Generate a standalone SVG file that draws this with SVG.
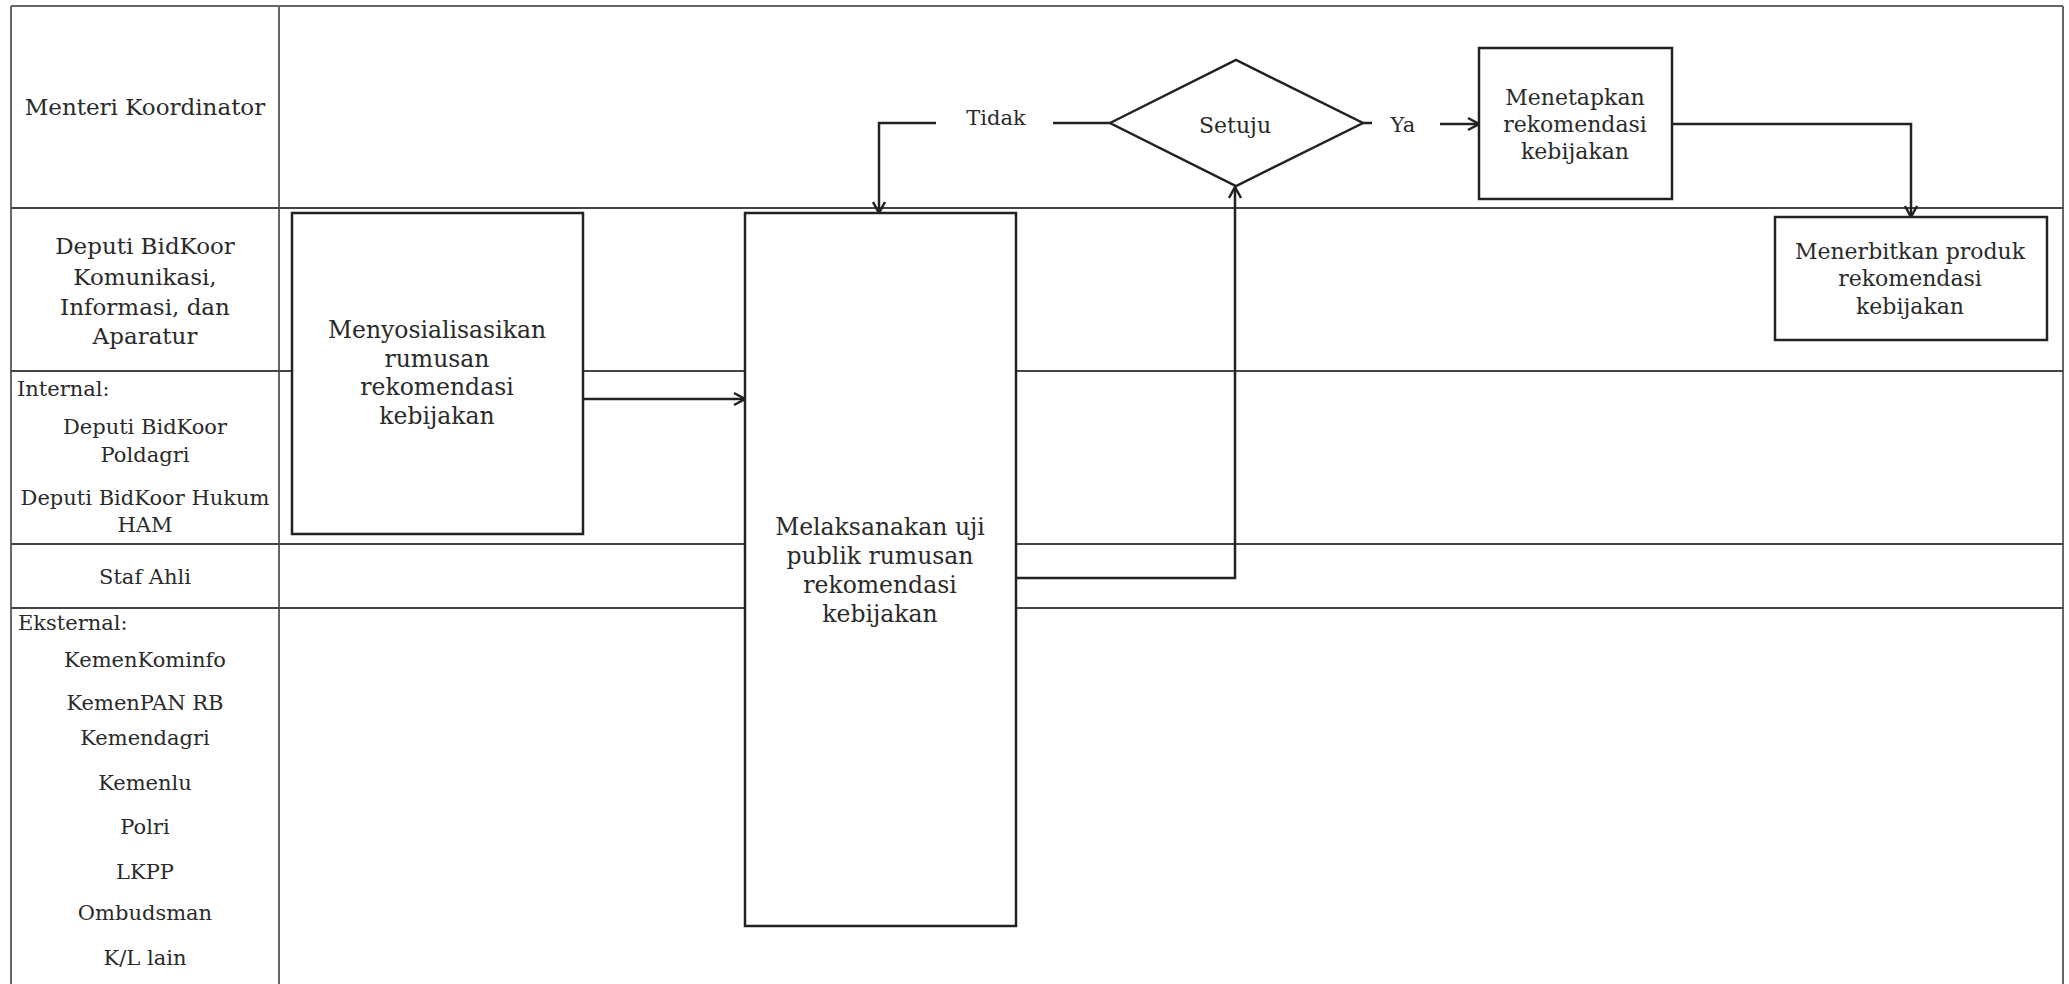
<svg xmlns="http://www.w3.org/2000/svg" width="2069" height="984" viewBox="0 0 2069 984">
<style>
text{font-family:"DejaVu Serif","Liberation Serif",serif;fill:#2a2a2a;text-anchor:middle}
.lane{stroke:#444;stroke-width:2;fill:none}
.border{stroke:#666;stroke-width:2;fill:none}
.box{fill:#fff;stroke:#222;stroke-width:2.5}
.conn{stroke:#222;stroke-width:2.5;fill:none}
.l23{font-size:23px}
.l21{font-size:21px}
.b{font-size:23.5px}
.s{font-size:22px}
.st{text-anchor:start}
</style>
<defs>
<marker id="arr" markerUnits="userSpaceOnUse" markerWidth="16" markerHeight="16" viewBox="0 0 16 16" refX="15" refY="8" orient="auto">
<path d="M4,2 L15,8 L4,14" fill="none" stroke="#222" stroke-width="2.5"/>
</marker>
</defs>
<rect width="2069" height="984" fill="#fff"/>
<g id="lanes">
<line class="border" x1="11" y1="6" x2="2063" y2="6"/>
<line class="border" x1="11" y1="6" x2="11" y2="984"/>
<line class="border" x1="279" y1="6" x2="279" y2="984"/>
<line class="border" x1="2063" y1="6" x2="2063" y2="984" stroke="#ccc"/>
<line class="lane" x1="11" y1="208" x2="2063" y2="208"/>
<line class="lane" x1="11" y1="371" x2="2063" y2="371"/>
<line class="lane" x1="11" y1="544" x2="2063" y2="544"/>
<line class="lane" x1="11" y1="608" x2="2063" y2="608"/>
</g>
<g id="lane-labels">
<text class="l23" x="145" y="115">Menteri Koordinator</text>
<text class="l23" x="145" y="254">Deputi BidKoor</text>
<text class="l23" x="145" y="285">Komunikasi,</text>
<text class="l23" x="145" y="315">Informasi, dan</text>
<text class="l23" x="145" y="344">Aparatur</text>
<text class="l21 st" x="17" y="396">Internal:</text>
<text class="l21" x="145" y="434">Deputi BidKoor</text>
<text class="l21" x="145" y="462">Poldagri</text>
<text class="l21" x="145" y="505">Deputi BidKoor Hukum</text>
<text class="l21" x="145" y="532">HAM</text>
<text class="l21" x="145" y="584">Staf Ahli</text>
<text class="l21 st" x="18" y="630">Eksternal:</text>
<text class="l21" x="145" y="667">KemenKominfo</text>
<text class="l21" x="145" y="710">KemenPAN RB</text>
<text class="l21" x="145" y="745">Kemendagri</text>
<text class="l21" x="145" y="790">Kemenlu</text>
<text class="l21" x="145" y="834">Polri</text>
<text class="l21" x="145" y="879">LKPP</text>
<text class="l21" x="145" y="920">Ombudsman</text>
<text class="l21" x="145" y="965">K/L lain</text>
</g>
<g id="connectors">
<path class="conn" d="M583,399 H745" marker-end="url(#arr)"/>
<path class="conn" d="M1016,578 H1235 V187" marker-end="url(#arr)"/>
<path class="conn" d="M1110,123 H1053"/>
<path class="conn" d="M936,123 H879 V213" marker-end="url(#arr)"/>
<path class="conn" d="M1363,123 H1372"/>
<path class="conn" d="M1440,124 H1479" marker-end="url(#arr)"/>
<path class="conn" d="M1672,124 H1911 V217" marker-end="url(#arr)"/>
<text class="l21" x="996" y="125">Tidak</text>
<text class="l21" x="1403" y="132">Ya</text>
</g>
<g id="n-menyosialisasikan">
<rect class="box" x="292" y="213" width="291" height="321"/>
<text class="b" x="437" y="338">Menyosialisasikan</text>
<text class="b" x="437" y="367">rumusan</text>
<text class="b" x="437" y="395">rekomendasi</text>
<text class="b" x="437" y="424">kebijakan</text>
</g>
<g id="n-melaksanakan">
<rect class="box" x="745" y="213" width="271" height="713"/>
<text class="b" x="880" y="535">Melaksanakan uji</text>
<text class="b" x="880" y="564">publik rumusan</text>
<text class="b" x="880" y="593">rekomendasi</text>
<text class="b" x="880" y="622">kebijakan</text>
</g>
<g id="n-setuju">
<polygon class="box" points="1110,123 1236,60 1363,123 1236,186"/>
<text class="s" x="1235" y="133">Setuju</text>
</g>
<g id="n-menetapkan">
<rect class="box" x="1479" y="48" width="193" height="151"/>
<text class="s" x="1575" y="105">Menetapkan</text>
<text class="s" x="1575" y="132">rekomendasi</text>
<text class="s" x="1575" y="159">kebijakan</text>
</g>
<g id="n-menerbitkan">
<rect class="box" x="1775" y="217" width="272" height="123"/>
<text class="s" x="1910" y="259">Menerbitkan produk</text>
<text class="s" x="1910" y="286">rekomendasi</text>
<text class="s" x="1910" y="314">kebijakan</text>
</g>
</svg>
